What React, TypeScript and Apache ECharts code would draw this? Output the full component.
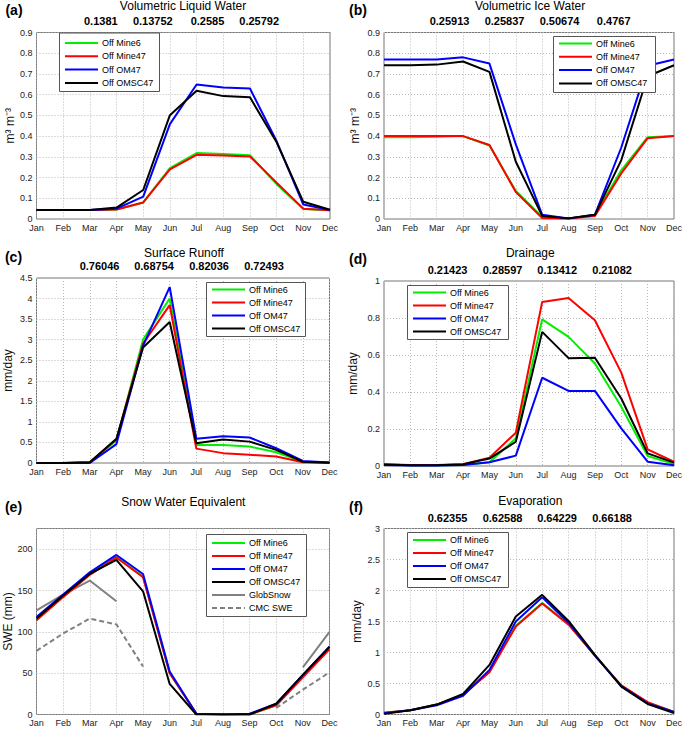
import React, { useEffect, useRef } from "react";
import * as echarts from "echarts";

const months = ["Jan", "Feb", "Mar", "Apr", "May", "Jun", "Jul", "Aug", "Sep", "Oct", "Nov", "Dec"];
const seriesNames = ["Off Mine6", "Off Mine47", "Off OM47", "Off OMSC47"];
const seriesColors = ["#00ee00", "#ff0000", "#0000ff", "#000000"];
const obsNames = ["GlobSnow", "CMC SWE"];
const obsColor = "#808080";

// (a) Volumetric Liquid Water
const liqMine6 = [0.043, 0.043, 0.043, 0.046, 0.08, 0.245, 0.318, 0.314, 0.308, 0.168, 0.048, 0.042];
const liqMine47 = [0.043, 0.043, 0.043, 0.046, 0.08, 0.24, 0.31, 0.307, 0.302, 0.175, 0.05, 0.042];
const liqOM47 = [0.043, 0.043, 0.043, 0.05, 0.108, 0.458, 0.649, 0.635, 0.63, 0.375, 0.07, 0.043];
const liqOMSC47 = [0.043, 0.043, 0.043, 0.055, 0.14, 0.501, 0.619, 0.593, 0.587, 0.37, 0.083, 0.045];
const liqStats = ["0.1381", "0.13752", "0.2585", "0.25792"];

// (b) Volumetric Ice Water
const iceMine6 = [0.395, 0.395, 0.397, 0.4, 0.355, 0.135, 0.01, 0.002, 0.02, 0.235, 0.395, 0.4];
const iceMine47 = [0.4, 0.4, 0.4, 0.4, 0.357, 0.13, 0.005, 0.002, 0.015, 0.22, 0.39, 0.4];
const iceOM47 = [0.77, 0.77, 0.77, 0.78, 0.75, 0.36, 0.02, 0.003, 0.02, 0.345, 0.74, 0.77];
const iceOMSC47 = [0.742, 0.742, 0.745, 0.76, 0.71, 0.276, 0.015, 0.003, 0.02, 0.284, 0.689, 0.742];
const iceStats = ["0.25913", "0.25837", "0.50674", "0.4767"];

// (c) Surface Runoff
const runMine6 = [0, 0, 0.02, 0.55, 3.0, 4.0, 0.44, 0.44, 0.4, 0.26, 0.03, 0.005];
const runMine47 = [0, 0, 0.02, 0.57, 2.9, 3.84, 0.35, 0.24, 0.2, 0.16, 0.02, 0.005];
const runOM47 = [0, 0, 0, 0.46, 2.85, 4.28, 0.59, 0.65, 0.62, 0.36, 0.05, 0.015];
const runOMSC47 = [0, 0, 0.02, 0.59, 2.81, 3.43, 0.48, 0.57, 0.52, 0.32, 0.03, 0.005];
const runStats = ["0.76046", "0.68754", "0.82036", "0.72493"];

// (d) Drainage
const drnMine6 = [0.008, 0.004, 0.004, 0.005, 0.02, 0.15, 0.793, 0.698, 0.554, 0.32, 0.054, 0.01];
const drnMine47 = [0.01, 0.005, 0.005, 0.01, 0.045, 0.18, 0.887, 0.908, 0.788, 0.505, 0.09, 0.023];
const drnOM47 = [0.005, 0.003, 0.003, 0.005, 0.02, 0.056, 0.477, 0.406, 0.406, 0.203, 0.023, 0.004];
const drnOMSC47 = [0.008, 0.004, 0.004, 0.01, 0.04, 0.131, 0.725, 0.583, 0.585, 0.365, 0.068, 0.018];
const drnStats = ["0.21423", "0.28597", "0.13412", "0.21082"];

// (e) Snow Water Equivalent
const sweMine6 = [115, 143, 170, 190, 167, 50, 1, 0, 0, 11, 46, 80];
const sweMine47 = [114, 142, 169, 190, 166, 50, 1, 0, 0, 11, 45, 79];
const sweOM47 = [118, 145, 172, 193, 170, 52, 1, 0, 1, 13, 48, 82];
const sweOMSC47 = [116, 144, 170, 187, 149, 37, 0, 0, 0, 13, 48, 82];
const sweGlobSnow = [126, 145, 162, 137, null, null, null, null, null, null, 57, 100];
const sweCMC = [77, 98, 116, 109, 58, null, null, null, null, 8, 30, 51];

// (f) Evaporation
const evpMine6 = [0.03, 0.07, 0.16, 0.32, 0.69, 1.43, 1.8, 1.46, 0.95, 0.47, 0.19, 0.04];
const evpMine47 = [0.03, 0.07, 0.16, 0.32, 0.68, 1.42, 1.79, 1.45, 0.95, 0.47, 0.2, 0.04];
const evpOM47 = [0.02, 0.07, 0.15, 0.3, 0.72, 1.5, 1.89, 1.48, 0.95, 0.46, 0.18, 0.04];
const evpOMSC47 = [0.01, 0.07, 0.16, 0.33, 0.8, 1.58, 1.93, 1.51, 0.96, 0.45, 0.17, 0.025];
const evpStats = ["0.62355", "0.62588", "0.64229", "0.66188"];

const FONT = "'Liberation Sans', Arial, Helvetica, sans-serif";

type Panel = {
  label: string;
  title: string;
  grid: { left: number; top: number; width: number; height: number };
  ymin: number;
  ymax: number;
  interval: number;
  yName: string;
  nameGap: number;
  data: number[][];
  stats: string[] | null;
  titlePos: [number, number];
  statsY: number;
  statsX: number[];
  labelPos: [number, number];
  legendBox: [number, number, number, number];
  legendFirst: number;
  legendPitch: number;
  hideMax?: boolean;
};

const panels: Panel[] = [
  {
    label: "(a)", title: "Volumetric Liquid Water",
    grid: { left: 36.5, top: 32.5, width: 293.5, height: 186.5 },
    ymin: 0, ymax: 0.9, interval: 0.1, yName: "m³ m⁻³", nameGap: 16,
    data: [liqMine6, liqMine47, liqOM47, liqOMSC47], stats: liqStats,
    titlePos: [183, 6], statsY: 21, statsX: [100.8, 152.8, 207.5, 259.2],
    labelPos: [14, 9.5], legendBox: [59, 32.5, 100, 58.5], legendFirst: 10.5, legendPitch: 13.3,
  },
  {
    label: "(b)", title: "Volumetric Ice Water",
    grid: { left: 384, top: 32.5, width: 293, height: 186.5 },
    ymin: 0, ymax: 0.9, interval: 0.1, yName: "m³ m⁻³", nameGap: 23,
    data: [iceMine6, iceMine47, iceOM47, iceOMSC47], stats: iceStats,
    titlePos: [530, 6], statsY: 21, statsX: [449.5, 504.5, 559.5, 613.7],
    labelPos: [358, 9.5], legendBox: [553, 36, 102, 56], legendFirst: 7.5, legendPitch: 13.3,
  },
  {
    label: "(c)", title: "Surface Runoff",
    grid: { left: 36.5, top: 278, width: 293, height: 185 },
    ymin: 0, ymax: 4.5, interval: 0.5, yName: "mm/day", nameGap: 23,
    data: [runMine6, runMine47, runOM47, runOMSC47], stats: runStats,
    titlePos: [184, 252.7], statsY: 265.7, statsX: [99.5, 154, 209, 264],
    labelPos: [13.5, 257], legendBox: [206, 282, 99, 54], legendFirst: 7.5, legendPitch: 13,
  },
  {
    label: "(d)", title: "Drainage",
    grid: { left: 384, top: 281, width: 292.5, height: 185 },
    ymin: 0, ymax: 1, interval: 0.2, yName: "mm/day", nameGap: 25,
    data: [drnMine6, drnMine47, drnOM47, drnOMSC47], stats: drnStats,
    titlePos: [530.3, 253.3], statsY: 270, statsX: [447.5, 502.5, 557.2, 612],
    labelPos: [358, 259], legendBox: [407, 285, 101, 54], legendFirst: 7.5, legendPitch: 13,
  },
  {
    label: "(e)", title: "Snow Water Equivalent",
    grid: { left: 36.5, top: 528.5, width: 293, height: 186 },
    ymin: 0, ymax: 225, interval: 50, yName: "SWE (mm)", nameGap: 23,
    data: [sweMine6, sweMine47, sweOM47, sweOMSC47], stats: null,
    titlePos: [183.3, 501.7], statsY: 0, statsX: [],
    labelPos: [13.5, 507], legendBox: [206, 534, 100, 82], legendFirst: 9, legendPitch: 13,
    hideMax: true,
  },
  {
    label: "(f)", title: "Evaporation",
    grid: { left: 384, top: 528.5, width: 293, height: 186 },
    ymin: 0, ymax: 3, interval: 0.5, yName: "mm/day", nameGap: 21,
    data: [evpMine6, evpMine47, evpOM47, evpOMSC47], stats: evpStats,
    titlePos: [530.3, 501], statsY: 518.3, statsX: [447.5, 502.5, 557, 612],
    labelPos: [356, 507], legendBox: [407, 532, 101, 55], legendFirst: 8, legendPitch: 13,
  },
];

function textEl(x: number, y: number, text: string, font: string, align = "center") {
  return {
    type: "text",
    x,
    y,
    silent: true,
    z: 100,
    style: {
      text,
      font,
      fill: "#000",
      align,
      verticalAlign: "middle",
      textAlign: align,
      textVerticalAlign: "middle",
    },
  };
}

export default function App() {
  const ref = useRef<HTMLDivElement>(null);

  useEffect(() => {
    if (!ref.current) return;
    const chart = echarts.init(ref.current, null, { renderer: "svg" });

    const grids: any[] = [];
    const xAxes: any[] = [];
    const yAxes: any[] = [];
    const series: any[] = [];
    const graphics: any[] = [];

    panels.forEach((p, i) => {
      grids.push({
        ...p.grid,
        show: true,
        borderColor: "#777",
        borderWidth: 1,
        backgroundColor: "transparent",
        containLabel: false,
      });
      xAxes.push({
        type: "category",
        gridIndex: i,
        data: months,
        boundaryGap: false,
        axisLine: { show: false },
        axisTick: { show: false },
        axisLabel: { interval: 0, fontSize: 9, color: "#222", margin: 4, fontFamily: FONT },
        splitLine: { show: true, interval: 0, lineStyle: { type: [1, 2], color: "#b8b8b8", width: 1 } },
      });
      yAxes.push({
        type: "value",
        gridIndex: i,
        min: p.ymin,
        max: p.ymax,
        interval: p.interval,
        name: p.yName,
        nameLocation: "middle",
        nameGap: p.nameGap,
        nameTextStyle: { fontSize: 12, color: "#111", fontFamily: FONT },
        axisLine: { show: false },
        axisTick: { show: false },
        axisLabel: { fontSize: 9, color: "#222", margin: 4, fontFamily: FONT, showMaxLabel: p.hideMax ? false : true },
        splitLine: { show: true, lineStyle: { type: [1, 2], color: "#b8b8b8", width: 1 } },
      });
      p.data.forEach((d, k) => {
        series.push({
          type: "line",
          name: seriesNames[k],
          xAxisIndex: i,
          yAxisIndex: i,
          data: d,
          symbol: "none",
          color: seriesColors[k],
          lineStyle: { color: seriesColors[k], width: 2 },
          z: 2 + k,
        });
      });

      const legendItems: { name: string; color: string; dash: number[] | null }[] = seriesNames.map((n, k) => ({
        name: n,
        color: seriesColors[k],
        dash: null,
      }));
      if (i === 4) {
        series.push({
          type: "line",
          name: obsNames[0],
          xAxisIndex: i,
          yAxisIndex: i,
          data: sweGlobSnow,
          symbol: "none",
          connectNulls: false,
          color: obsColor,
          lineStyle: { color: obsColor, width: 2 },
          z: 1,
        });
        series.push({
          type: "line",
          name: obsNames[1],
          xAxisIndex: i,
          yAxisIndex: i,
          data: sweCMC,
          symbol: "none",
          connectNulls: false,
          color: obsColor,
          lineStyle: { color: obsColor, width: 2, type: [5, 3] },
          z: 1,
        });
        legendItems.push({ name: obsNames[0], color: obsColor, dash: null });
        legendItems.push({ name: obsNames[1], color: obsColor, dash: [5, 3] });
      }

      // legend box drawn as graphic
      const [lx, ly, lw, lh] = p.legendBox;
      graphics.push({
        type: "rect",
        z: 99,
        silent: true,
        shape: { x: lx + 0.5, y: ly + 0.5, width: lw, height: lh },
        style: { fill: "#fff", stroke: "#555", lineWidth: 1 },
      });
      legendItems.forEach((it, k) => {
        const yy = ly + p.legendFirst + p.legendPitch * k;
        graphics.push({
          type: "line",
          z: 100,
          silent: true,
          shape: { x1: lx + 6, y1: yy, x2: lx + 39, y2: yy },
          style: { stroke: it.color, lineWidth: 2, lineDash: it.dash || undefined },
        });
        graphics.push(textEl(lx + 43, yy, it.name, `9px ${FONT}`, "left"));
      });

      graphics.push(textEl(p.titlePos[0], p.titlePos[1], p.title, `12px ${FONT}`));
      graphics.push(textEl(p.labelPos[0], p.labelPos[1], p.label, `bold 14px ${FONT}`));
      if (p.stats) {
        p.stats.forEach((s, j) => {
          graphics.push(textEl(p.statsX[j], p.statsY, s, `bold 11px ${FONT}`));
        });
      }
    });

    chart.setOption({
      animation: false,
      backgroundColor: "#fff",
      textStyle: { fontFamily: FONT },
      grid: grids,
      xAxis: xAxes,
      yAxis: yAxes,
      series,
      graphic: graphics,
    });

    return () => {
      chart.dispose();
    };
  }, []);

  return (
    <div
      ref={ref}
      style={{ position: "absolute", left: 0, top: 0, width: 685, height: 729, background: "#fff" }}
    />
  );
}
